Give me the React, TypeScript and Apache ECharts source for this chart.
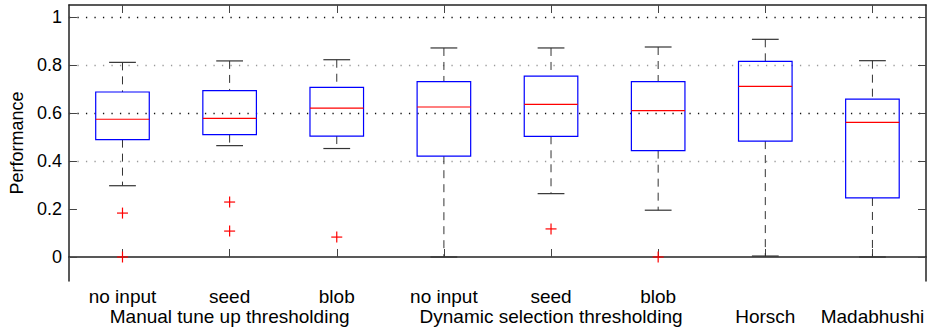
import React, { useEffect, useRef } from 'react';
import * as echarts from 'echarts';

const categories = ['no input', 'seed', 'blob', 'no input', 'seed', 'blob', '', ''];
const groupLabels = ['', 'Manual tune up thresholding', '', '', 'Dynamic selection thresholding', '', 'Horsch', 'Madabhushi'];
const yTickValues = [0, 0.2, 0.4, 0.6, 0.8, 1];

const lowerWhisker = [0.297, 0.464, 0.452, 0.0, 0.264, 0.195, 0.004, 0.0];
const q1 = [0.489, 0.51, 0.504, 0.42, 0.503, 0.443, 0.483, 0.246];
const median = [0.574, 0.578, 0.62, 0.625, 0.636, 0.61, 0.711, 0.561];
const q3 = [0.6875, 0.693, 0.707, 0.731, 0.754, 0.731, 0.815, 0.658];
const upperWhisker = [0.811, 0.817, 0.822, 0.871, 0.871, 0.875, 0.907, 0.818];

const outlierIndex = [0, 0, 1, 1, 2, 4, 5];
const outlierValue = [0.183, 0.0, 0.229, 0.108, 0.083, 0.117, 0.0];

const FONT = "'Liberation Sans', Arial, Helvetica, sans-serif";
const MAJOR = '#111';
const MINOR = '#999';

export default function App() {
  const ref = useRef<HTMLDivElement>(null);

  useEffect(() => {
    if (!ref.current) return;
    const chart = echarts.init(ref.current, null, { renderer: 'svg' });

    const boxData = categories.map((_, i) => [i, lowerWhisker[i], q1[i], median[i], q3[i], upperWhisker[i]]);
    const outData = outlierIndex.map((c, k) => [c, outlierValue[k]]);

    // split lines at -0.1, 0, 0.1, ..., 1.0, 1.05
    const splitColors = ['transparent', 'transparent', MINOR, MAJOR, MINOR, MAJOR, MINOR, MAJOR, MINOR, MAJOR, MINOR, MAJOR, 'transparent'];

    const option: any = {
      animation: false,
      backgroundColor: '#fff',
      textStyle: { fontFamily: FONT },
      grid: { left: 66, right: 10, top: 5, bottom: 49, containLabel: false },
      xAxis: [
        {
          type: 'category',
          position: 'bottom',
          data: categories,
          boundaryGap: true,
          axisLine: { show: true, lineStyle: { color: '#222', width: 1.5 } },
          axisTick: { show: true, inside: true, alignWithLabel: true, length: 8, lineStyle: { color: '#444' } },
          axisLabel: { interval: 0, fontSize: 19, lineHeight: 19, color: '#000', margin: 6, fontFamily: FONT },
          splitLine: { show: false },
        },
        {
          type: 'category',
          position: 'bottom',
          offset: 20,
          data: groupLabels,
          boundaryGap: true,
          axisLine: { show: false },
          axisTick: { show: false },
          axisLabel: { interval: 0, fontSize: 19, lineHeight: 19, color: '#000', margin: 6, fontFamily: FONT },
          splitLine: { show: false },
        },
        {
          type: 'category',
          position: 'top',
          data: categories,
          boundaryGap: true,
          axisLine: { show: true, lineStyle: { color: '#222', width: 1.5 } },
          axisTick: { show: true, inside: true, alignWithLabel: true, length: 8, lineStyle: { color: '#444' } },
          axisLabel: { show: false },
          splitLine: { show: false },
        },
      ],
      yAxis: [
        {
          type: 'value',
          position: 'left',
          min: -0.1,
          max: 1.05,
          interval: 0.1,
          name: 'Performance',
          nameLocation: 'middle',
          nameGap: 42,
          nameTextStyle: { fontSize: 18, color: '#000', fontFamily: FONT },
          axisLine: { show: true, lineStyle: { color: '#222', width: 1.5 } },
          axisTick: { show: true, inside: true, length: 8, customValues: yTickValues, lineStyle: { color: '#444' } },
          axisLabel: {
            show: true,
            customValues: yTickValues,
            fontSize: 18,
            color: '#000',
            margin: 7,
            fontFamily: FONT,
            formatter: (v: number) => {
              const k = Math.round(v * 10);
              if (k === 0) return '0';
              if (k === 10) return '1';
              return (k / 10).toFixed(1);
            },
          },
          splitLine: {
            show: true,
            showMinLine: true,
            showMaxLine: true,
            lineStyle: { color: splitColors, width: 1.3, type: [1.3, 7.2] },
          },
        },
        {
          type: 'value',
          position: 'right',
          min: -0.1,
          max: 1.05,
          interval: 0.1,
          axisLine: { show: true, lineStyle: { color: '#222', width: 1.5 } },
          axisTick: { show: true, inside: true, length: 8, customValues: yTickValues, lineStyle: { color: '#444' } },
          axisLabel: { show: false },
          splitLine: { show: false },
        },
      ],
      series: [
        {
          type: 'custom',
          name: 'box',
          xAxisIndex: 0,
          yAxisIndex: 0,
          encode: { x: 0, y: [1, 2, 3, 4, 5] },
          data: boxData,
          renderItem: (params: any, api: any) => {
            const i = api.value(0);
            const band = api.size([1, 0])[0];
            const half = band * 0.25;
            const capHalf = band * 0.125;
            const p = api.coord([i, api.value(1)]);
            const cx = p[0];
            const yLo = p[1];
            const yQ1 = api.coord([i, api.value(2)])[1];
            const yMed = api.coord([i, api.value(3)])[1];
            const yQ3 = api.coord([i, api.value(4)])[1];
            const yHi = api.coord([i, api.value(5)])[1];
            const dashStyle = { stroke: '#333', lineWidth: 1, lineDash: [8, 6] };
            const solid = { stroke: '#333', lineWidth: 1.2 };
            return {
              type: 'group',
              children: [
                { type: 'line', shape: { x1: cx, y1: yHi, x2: cx, y2: yQ3 }, style: dashStyle },
                { type: 'line', shape: { x1: cx, y1: yQ1, x2: cx, y2: yLo }, style: dashStyle },
                { type: 'line', shape: { x1: cx - capHalf, y1: yHi, x2: cx + capHalf, y2: yHi }, style: solid },
                { type: 'line', shape: { x1: cx - capHalf, y1: yLo, x2: cx + capHalf, y2: yLo }, style: solid },
                {
                  type: 'rect',
                  shape: { x: cx - half, y: yQ3, width: half * 2, height: yQ1 - yQ3 },
                  style: { fill: 'none', stroke: '#0000ff', lineWidth: 1.2 },
                },
                {
                  type: 'line',
                  shape: { x1: cx - half, y1: yMed, x2: cx + half, y2: yMed },
                  style: { stroke: '#ff0000', lineWidth: 1.2 },
                },
              ],
            };
          },
          z: 5,
        },
        {
          type: 'custom',
          name: 'outliers',
          xAxisIndex: 0,
          yAxisIndex: 0,
          encode: { x: 0, y: 1 },
          data: outData,
          renderItem: (params: any, api: any) => {
            const p = api.coord([api.value(0), api.value(1)]);
            const s = 5.5;
            const st = { stroke: '#ff0000', lineWidth: 1.2 };
            return {
              type: 'group',
              children: [
                { type: 'line', shape: { x1: p[0] - s, y1: p[1], x2: p[0] + s, y2: p[1] }, style: st },
                { type: 'line', shape: { x1: p[0], y1: p[1] - s, x2: p[0], y2: p[1] + s }, style: st },
              ],
            };
          },
          z: 6,
        },
      ],
    };

    chart.setOption(option);
    return () => chart.dispose();
  }, []);

  return (
    <div
      ref={ref}
      style={{ position: 'absolute', left: 0, top: 0, width: 936, height: 330, background: '#fff' }}
    />
  );
}
